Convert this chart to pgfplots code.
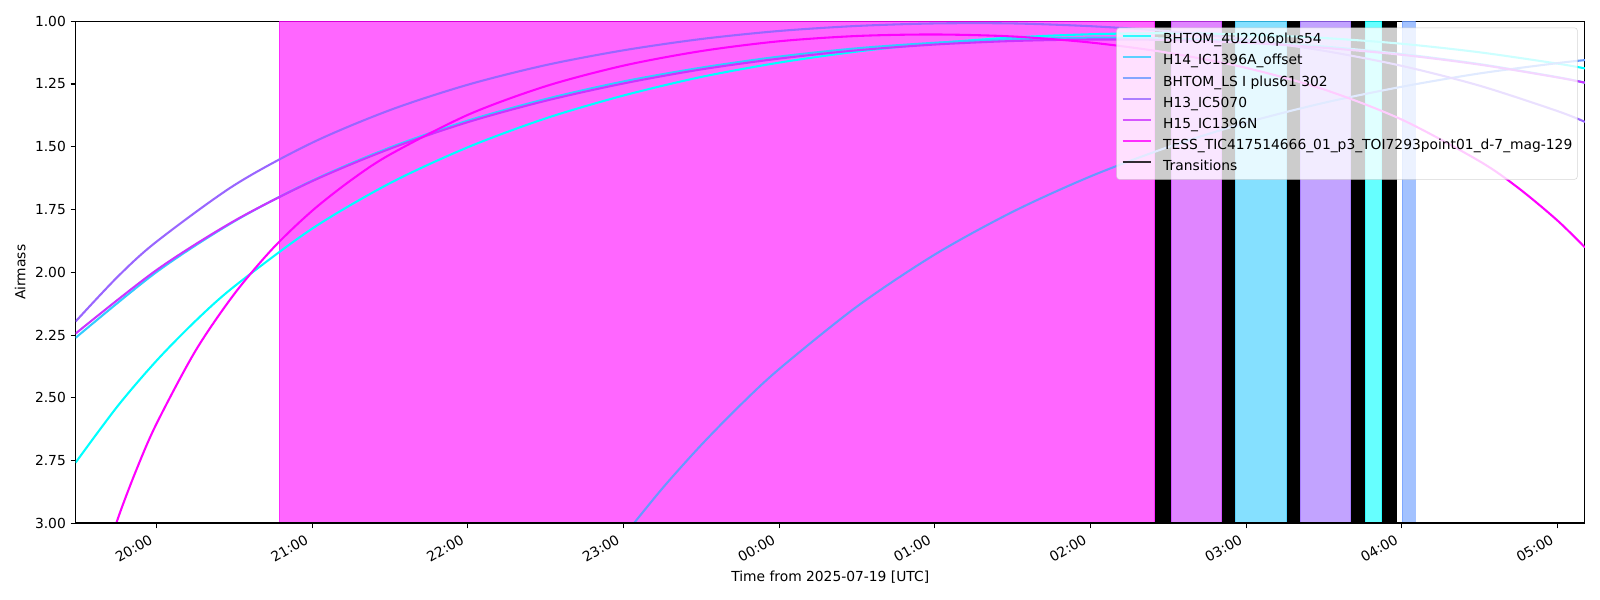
\documentclass[border=0pt]{standalone}
\usepackage{fontspec}
\setmainfont{DejaVu Sans}
\usepackage{pgfplots}
\pgfplotsset{compat=1.18}
\definecolor{c0}{HTML}{00FFFF}
\definecolor{c1}{HTML}{33CCFF}
\definecolor{c2}{HTML}{6699FF}
\definecolor{c3}{HTML}{9966FF}
\definecolor{c4}{HTML}{CC33FF}
\definecolor{c5}{HTML}{FF00FF}
\begin{document}
\begin{tikzpicture}
\useasboundingbox (-54.6pt,-55.3pt) rectangle (1101.7pt,378.3pt);
\begin{axis}[
  at={(0,0)}, anchor=south west,
  scale only axis, width=1090.9pt, height=363.0pt,
  xmin=19.48, xmax=29.176, ymin=1, ymax=3, y dir=reverse,
  xtick={20,21,22,23,24,25,26,27,28,29},
  xticklabels={20:00,21:00,22:00,23:00,00:00,01:00,02:00,03:00,04:00,05:00},
  ytick={1,1.25,1.5,1.75,2,2.25,2.5,2.75,3},
  yticklabel style={/pgf/number format/.cd, fixed, fixed zerofill, precision=2},
  /pgf/number format/assume math mode=true,
  tick pos=left, tick align=outside, major tick length=3.5pt,
  tick style={black, line width=0.8pt},
  axis line style={line width=0.8pt},
  every tick label/.append style={font=\fontsize{10}{12}\selectfont},
  xticklabel style={rotate=30, anchor=north east, xshift=-3.5pt, yshift=3pt},
  xlabel={Time from 2025-07-19 [UTC]},
  ylabel={Airmass},
  every axis x label/.style={at={(axis description cs:0.5,0)}, yshift=-41.7pt, anchor=base, font=\fontsize{10}{12}\selectfont},
  every axis y label/.style={at={(axis description cs:0,0.5)}, xshift=-40pt, rotate=90, anchor=center, font=\fontsize{10}{12}\selectfont},
  legend style={at={(axis description cs:0.99516,0.98728)}, anchor=north east,
    fill=white, fill opacity=0.8, draw opacity=0.8, text opacity=1, draw=black!20,
    rounded corners=2pt, font=\fontsize{10}{12}\selectfont,
    inner xsep=3.6pt, inner ysep=4pt, row sep=5.25pt, column sep=0pt,
    nodes={inner sep=0pt, text height=7.6pt, text depth=2.4pt}},
  legend cell align=left,
  legend image code/.code={\draw[#1,line width=1.5pt] (0pt,3.3pt) -- (20.5pt,3.3pt); \path (28.5pt,0pt);},
  no markers,
]
% observation windows
\addplot[forget plot, fill=c5, fill opacity=0.6, draw=c5, draw opacity=0.6, line width=0.5pt] coordinates {(20.789,1) (26.412,1) (26.412,3) (20.789,3)} -- cycle;
\addplot[forget plot, fill=c4, fill opacity=0.6, draw=c4, draw opacity=0.6, line width=0.5pt] coordinates {(26.519,1) (26.842,1) (26.842,3) (26.519,3)} -- cycle;
\addplot[forget plot, fill=c1, fill opacity=0.6, draw=c1, draw opacity=0.6, line width=0.5pt] coordinates {(26.930,1) (27.260,1) (27.260,3) (26.930,3)} -- cycle;
\addplot[forget plot, fill=c3, fill opacity=0.6, draw=c3, draw opacity=0.6, line width=0.5pt] coordinates {(27.347,1) (27.671,1) (27.671,3) (27.347,3)} -- cycle;
\addplot[forget plot, fill=c0, fill opacity=0.6, draw=c0, draw opacity=0.6, line width=0.5pt] coordinates {(27.765,1) (27.870,1) (27.870,3) (27.765,3)} -- cycle;
\addplot[forget plot, fill=c2, fill opacity=0.6, draw=c2, draw opacity=0.6, line width=0.5pt] coordinates {(28.001,1) (28.084,1) (28.084,3) (28.001,3)} -- cycle;
% transitions
\addplot[forget plot, fill=black, draw=none] coordinates {(26.412,1) (26.519,1) (26.519,3) (26.412,3)} -- cycle;
\addplot[forget plot, fill=black, draw=none] coordinates {(26.842,1) (26.930,1) (26.930,3) (26.842,3)} -- cycle;
\addplot[forget plot, fill=black, draw=none] coordinates {(27.260,1) (27.347,1) (27.347,3) (27.260,3)} -- cycle;
\addplot[forget plot, fill=black, draw=none] coordinates {(27.671,1) (27.765,1) (27.765,3) (27.671,3)} -- cycle;
\addplot[forget plot, fill=black, draw=none] coordinates {(27.870,1) (27.968,1) (27.968,3) (27.870,3)} -- cycle;
% airmass curves
\addplot[c0, line width=1.5pt, smooth] coordinates {(19.48,2.758)(19.75,2.533)(20.0,2.352)(20.25,2.194)(20.5,2.056)(21.0,1.826)(21.5,1.645)(22.0,1.502)(22.5,1.387)(23.0,1.296)(23.5,1.222)(24.0,1.165)(24.5,1.121)(25.0,1.088)(25.5,1.065)(26.0,1.052)(26.5,1.048)(27.0,1.053)(27.5,1.067)(28.0,1.090)(28.5,1.124)(29.0,1.169)(29.176,1.188)};
\addlegendentry{BHTOM\_4U2206plus54}
\addplot[c1, line width=1.5pt, smooth] coordinates {(19.48,2.261)(20.0,1.999)(20.5,1.797)(21.0,1.635)(21.5,1.503)(22.0,1.396)(22.5,1.310)(23.0,1.240)(23.5,1.185)(24.0,1.141)(24.5,1.108)(25.0,1.086)(25.5,1.072)(26.0,1.066)(26.5,1.069)(27.0,1.081)(27.5,1.101)(28.0,1.131)(28.5,1.171)(29.0,1.223)(29.176,1.245)};
\addlegendentry{H14\_IC1396A\_offset}
\addplot[c2, line width=1.5pt, smooth] coordinates {(23.0,3.051)(23.25,2.860)(23.5,2.687)(23.75,2.529)(24.0,2.385)(24.5,2.136)(25.0,1.929)(25.5,1.759)(26.0,1.618)(26.5,1.501)(27.0,1.404)(27.5,1.325)(28.0,1.261)(28.5,1.208)(29.0,1.167)(29.176,1.155)};
\addlegendentry{BHTOM\_LS I plus61 302}
\addplot[c3, line width=1.5pt, smooth] coordinates {(19.48,2.196)(19.75,2.018)(20.0,1.878)(20.5,1.653)(21.0,1.484)(21.5,1.354)(22.0,1.253)(22.5,1.175)(23.0,1.116)(23.5,1.071)(24.0,1.039)(24.5,1.019)(25.0,1.009)(25.5,1.009)(26.0,1.020)(26.5,1.040)(27.0,1.073)(27.5,1.118)(28.0,1.178)(28.5,1.257)(29.0,1.358)(29.176,1.401)};
\addlegendentry{H13\_IC5070}
\addplot[c4, line width=1.5pt, smooth] coordinates {(19.48,2.244)(20.0,1.991)(20.5,1.795)(21.0,1.637)(21.5,1.508)(22.0,1.402)(22.5,1.317)(23.0,1.248)(23.5,1.192)(24.0,1.149)(24.5,1.116)(25.0,1.093)(25.5,1.079)(26.0,1.073)(26.5,1.075)(27.0,1.086)(27.5,1.106)(28.0,1.134)(28.5,1.173)(29.0,1.224)(29.176,1.245)};
\addlegendentry{H15\_IC1396N}
\addplot[c5, line width=1.5pt, smooth] coordinates {(19.6,3.274)(19.75,2.984)(19.875,2.780)(20.0,2.603)(20.25,2.313)(20.5,2.086)(20.75,1.903)(21.0,1.755)(21.25,1.633)(21.5,1.531)(22.0,1.373)(22.5,1.259)(23.0,1.177)(23.5,1.119)(24.0,1.080)(24.5,1.059)(25.0,1.053)(25.5,1.061)(26.0,1.085)(26.5,1.126)(27.0,1.186)(27.5,1.272)(28.0,1.392)(28.5,1.558)(28.75,1.665)(29.0,1.794)(29.176,1.901)};
\addlegendentry{TESS\_TIC417514666\_01\_p3\_TOI7293point01\_d-7\_mag-129}
\addplot[black, line width=1.5pt] coordinates {(19.48,3) (29.176,3)};
\addlegendentry{Transitions}
\end{axis}
\end{tikzpicture}
\end{document}
